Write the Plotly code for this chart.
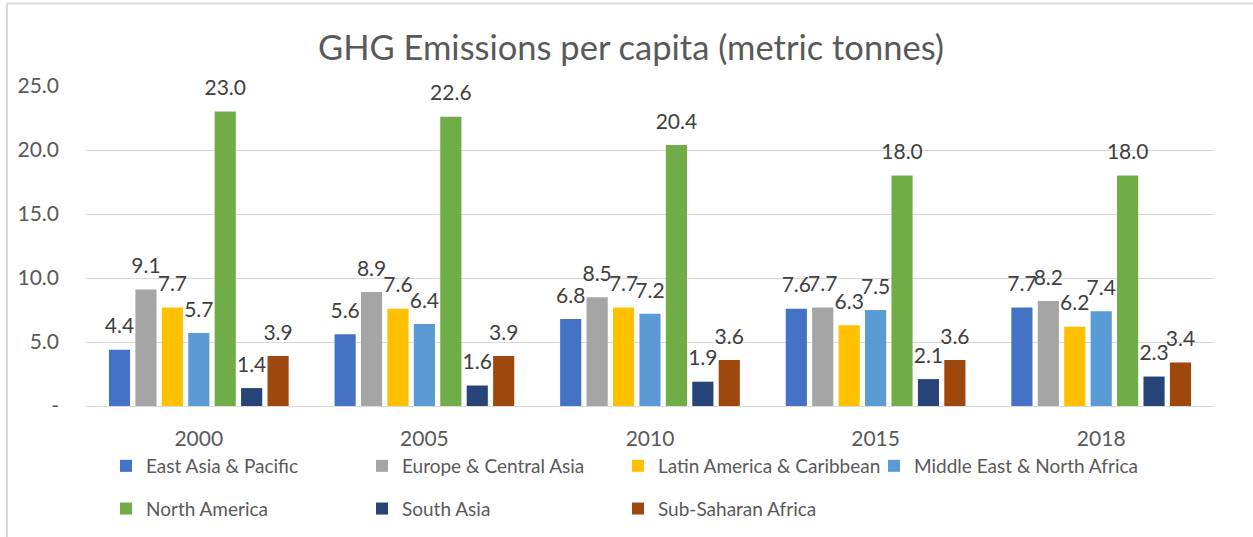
import plotly.graph_objects as go

years = ["2000", "2005", "2010", "2015", "2018"]
regions = ["East Asia & Pacific", "Europe & Central Asia", "Latin America & Caribbean",
           "Middle East & North Africa", "North America", "South Asia", "Sub-Saharan Africa"]
east_asia = [4.4, 5.6, 6.8, 7.6, 7.7]
europe = [9.1, 8.9, 8.5, 7.7, 8.2]
latin = [7.7, 7.6, 7.7, 6.3, 6.2]
mena = [5.7, 6.4, 7.2, 7.5, 7.4]
north_am = [23.0, 22.6, 20.4, 18.0, 18.0]
south_asia = [1.4, 1.6, 1.9, 2.1, 2.3]
ssa = [3.9, 3.9, 3.6, 3.6, 3.4]
series = [east_asia, europe, latin, mena, north_am, south_asia, ssa]
colors = ["#4472C4", "#A5A5A5", "#FFC000", "#5B9BD5", "#70AD47", "#264478", "#9E480E"]
y_ticks = [0, 5, 10, 15, 20, 25]
y_ticktext = ["-", "5.0", "10.0", "15.0", "20.0", "25.0"]

FONT = "Lato"
GAP = 0.18
legend_ids = ["legend", "legend2", "legend3", "legend4"]
fig = go.Figure()
for i, (name, vals, col) in enumerate(zip(regions, series, colors)):
    fig.add_trace(go.Bar(
        x=years, y=vals, name=name, marker=dict(color=col, line=dict(width=0)),
        offsetgroup=str(i), alignmentgroup="a",
        legend=legend_ids[i % 4], legendgroup=name,
    ))
for i, vals in enumerate(series):
    fig.add_trace(go.Scatter(
        x=years, y=vals, mode="markers+text", showlegend=False, hoverinfo="skip",
        marker=dict(size=16, opacity=0, color="white"),
        text=[f"{v:.1f}" for v in vals], textposition="top center",
        textfont=dict(family=FONT, size=21, color="#404040"),
        offsetgroup=str(i), alignmentgroup="a", cliponaxis=False,
    ))

W, H = 1253, 537
L, R, T, B = 86, 39, 86, 131
pw, ph = W - L - R, H - T - B

def px(x):
    return (x - L) / pw

def py(y):
    return (H - B - y) / ph

legend_font = dict(family=FONT, size=19, color="#595959")
legends = {}
for k, lid in enumerate(legend_ids):
    legends[lid] = dict(orientation="v", x=px(106 + 256 * k), xanchor="left",
                        y=py(447), yanchor="top", tracegroupgap=15,
                        font=legend_font, bgcolor="rgba(0,0,0,0)")

fig.update_layout(
    width=W, height=H,
    margin=dict(l=L, r=R, t=T, b=B, autoexpand=False),
    paper_bgcolor="white", plot_bgcolor="white",
    title=dict(text="GHG Emissions per capita (metric tonnes)", x=631 / W, xanchor="center",
               y=1 - 48 / H, yanchor="middle",
               font=dict(family=FONT, size=34.5, color="#595959")),
    barmode="group", bargap=GAP, bargroupgap=0.2,
    scattermode="group", scattergap=GAP,
    showlegend=True,
    xaxis=dict(type="category", showgrid=False, showline=False, zeroline=False,
               tickfont=dict(family=FONT, size=21, color="#595959"),
               ticks="", ticklabelstandoff=18),
    yaxis=dict(range=[0, 25], tickvals=y_ticks, ticktext=y_ticktext,
               showgrid=True, gridcolor="#D9D9D9", gridwidth=1,
               zeroline=True, zerolinecolor="#D9D9D9", zerolinewidth=1,
               showline=False, ticks="", ticklabelstandoff=26,
               tickfont=dict(family=FONT, size=21, color="#595959")),
    shapes=[
        dict(type="line", xref="paper", yref="paper", x0=px(7), x1=px(7), y0=py(H + 5), y1=py(3.5),
             line=dict(color="#D9D9D9", width=2)),
        dict(type="line", xref="paper", yref="paper", x0=px(7), x1=px(W + 5), y0=py(3.5), y1=py(3.5),
             line=dict(color="#D9D9D9", width=2)),
    ],
    **legends,
)
fig.write_html("out.html")
